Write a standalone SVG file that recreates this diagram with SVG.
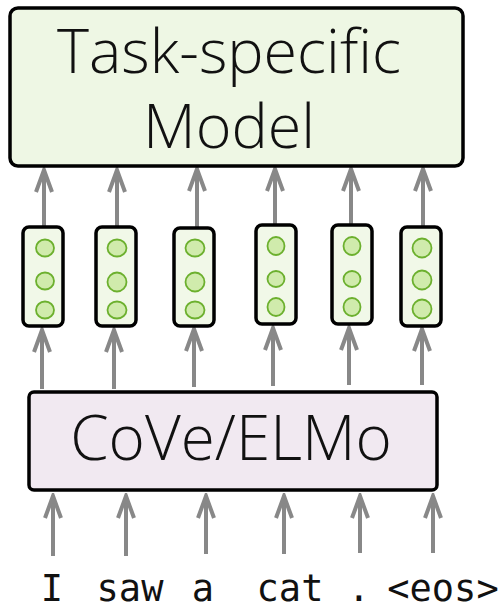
<svg xmlns="http://www.w3.org/2000/svg" width="501" height="610" viewBox="0 0 501 610">
  <defs>
    <style>
      .box { stroke: #000; stroke-width: 3.5; }
      .model { fill: #eef7e4; }
      .enc { fill: #f1e9f1; }
      .vec { fill: #f1f8e8; stroke: #000; stroke-width: 3.5; }
      .unit { fill: #d0ebac; stroke: #6cb02e; stroke-width: 1.8; }
      .label { font-family: "Open Sans", "Lato", "Liberation Sans", sans-serif; font-weight: 300; fill: #111; text-anchor: middle; font-variant-ligatures: none; }
      .word { font-family: "DejaVu Sans Mono", "Liberation Mono", monospace; font-size: 37px; fill: #111; text-anchor: middle; }
      .arrow { stroke: #888; stroke-width: 4; fill: none; stroke-linecap: butt; }
    </style>
    <!-- open chevron head, pointing along +x -->
    <marker id="head" viewBox="0 0 26 20" refX="23" refY="10" markerWidth="26" markerHeight="20" markerUnits="userSpaceOnUse" orient="auto">
      <path d="M1,2 L23,10 L1,18" fill="none" stroke="#888" stroke-width="4" stroke-linejoin="miter"/>
    </marker>
  </defs>

  <!-- connectors -->
  <g id="connectors" class="arrow" marker-end="url(#head)">
    <!-- word to encoder -->
    <line x1="53" y1="556" x2="53" y2="496"/>
    <line x1="126" y1="556" x2="126" y2="496"/>
    <line x1="206" y1="554" x2="206" y2="496"/>
    <line x1="284" y1="554" x2="284" y2="496"/>
    <line x1="360" y1="553" x2="360" y2="496"/>
    <line x1="433" y1="553" x2="433" y2="496"/>
    <!-- encoder to vectors -->
    <line x1="42" y1="389" x2="42" y2="330"/>
    <line x1="114" y1="389" x2="114" y2="330"/>
    <line x1="194" y1="387" x2="194" y2="329"/>
    <line x1="273" y1="386" x2="273" y2="328"/>
    <line x1="349" y1="385" x2="349" y2="328"/>
    <line x1="422" y1="385" x2="422" y2="329"/>
    <!-- vectors to model -->
    <line x1="44" y1="227" x2="44" y2="170"/>
    <line x1="117" y1="227" x2="117" y2="170"/>
    <line x1="197" y1="228" x2="197" y2="169"/>
    <line x1="275" y1="225" x2="275" y2="169"/>
    <line x1="351" y1="225" x2="351" y2="169"/>
    <line x1="423" y1="227" x2="423" y2="169"/>
  </g>

  <!-- task-specific model -->
  <g id="task-model">
    <rect class="box model" x="10" y="8" width="453" height="158" rx="8"/>
    <text class="label" x="229" y="73" font-size="61">Task-specific</text>
    <text class="label" x="229" y="148" font-size="61">Model</text>
  </g>

  <!-- contextual vectors -->
  <g id="vec1">
    <rect class="vec" x="23" y="227" width="40" height="99" rx="6"/>
    <ellipse class="unit" cx="45" cy="248" rx="9" ry="8.5"/>
    <ellipse class="unit" cx="45" cy="281" rx="9" ry="8.5"/>
    <ellipse class="unit" cx="45" cy="310" rx="9" ry="8.5"/>
  </g>
  <g id="vec2">
    <rect class="vec" x="96" y="227" width="40" height="99" rx="6"/>
    <ellipse class="unit" cx="117" cy="248" rx="9.5" ry="8.5"/>
    <ellipse class="unit" cx="117" cy="282" rx="9.5" ry="9.5"/>
    <ellipse class="unit" cx="117" cy="310" rx="9.5" ry="8.5"/>
  </g>
  <g id="vec3">
    <rect class="vec" x="174" y="228" width="40" height="98" rx="6"/>
    <ellipse class="unit" cx="195" cy="248" rx="9.5" ry="8.5"/>
    <ellipse class="unit" cx="195" cy="282" rx="9.5" ry="9.5"/>
    <ellipse class="unit" cx="195" cy="310" rx="9.5" ry="8.5"/>
  </g>
  <g id="vec4">
    <rect class="vec" x="256" y="225" width="40" height="99" rx="6"/>
    <ellipse class="unit" cx="276" cy="246" rx="8.5" ry="9"/>
    <ellipse class="unit" cx="276" cy="279" rx="8.5" ry="8"/>
    <ellipse class="unit" cx="276" cy="307" rx="8.5" ry="9"/>
  </g>
  <g id="vec5">
    <rect class="vec" x="332" y="225" width="40" height="99" rx="6"/>
    <ellipse class="unit" cx="352" cy="246" rx="8.5" ry="9"/>
    <ellipse class="unit" cx="352" cy="279" rx="8.5" ry="8"/>
    <ellipse class="unit" cx="352" cy="307" rx="8.5" ry="9"/>
  </g>
  <g id="vec6">
    <rect class="vec" x="401" y="227" width="40" height="99" rx="6"/>
    <ellipse class="unit" cx="422" cy="248" rx="9.5" ry="9.5"/>
    <ellipse class="unit" cx="422" cy="280" rx="9.5" ry="9.5"/>
    <ellipse class="unit" cx="422" cy="309" rx="9.5" ry="9.5"/>
  </g>

  <!-- encoder -->
  <g id="encoder">
    <rect class="box enc" x="29" y="392" width="408" height="98" rx="5"/>
    <text class="label" x="231" y="460" font-size="62">CoVe/ELMo</text>
  </g>

  <!-- input tokens -->
  <g id="tokens">
    <text class="word" x="52" y="601">I</text>
    <text class="word" x="130" y="601">saw</text>
    <text class="word" x="203" y="601">a</text>
    <text class="word" x="290" y="601">cat</text>
    <text class="word" x="359" y="601">.</text>
    <text class="word" x="443" y="601">&lt;eos&gt;</text>
  </g>
</svg>
